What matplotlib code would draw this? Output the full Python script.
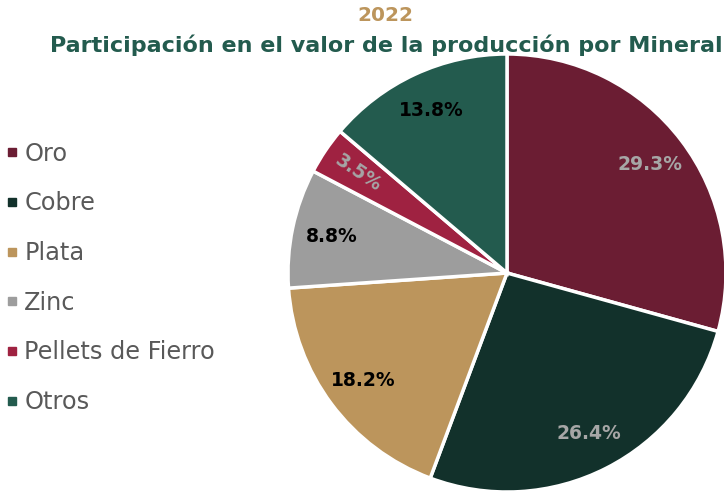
import matplotlib
matplotlib.use('Agg')
import matplotlib.pyplot as plt
from matplotlib.lines import Line2D

minerales = ['Oro', 'Cobre', 'Plata', 'Zinc', 'Pellets de Fierro', 'Otros']
participacion = [29.3, 26.4, 18.2, 8.8, 3.5, 13.8]
colores = ['#6B1D33', '#12312B', '#BC955C', '#9D9D9D', '#9F2241', '#235B4E']
color_etiqueta = ['#A6A6A6', '#A6A6A6', 'black', 'black', '#A6A6A6', 'black']

plt.rcParams['font.family'] = ['DejaVu Sans']

fig = plt.figure(figsize=(7.24, 4.91), dpi=100)
ax = fig.add_axes([288/724, -1/491, 438/724, 438/491])

wedges, texts, autotexts = ax.pie(
    participacion, colors=colores, startangle=90, counterclock=False,
    autopct='%.1f%%', pctdistance=0.82, radius=1,
    wedgeprops=dict(edgecolor='white', linewidth=2.5))
ax.set_xlim(-1.0, 1.0)
ax.set_ylim(-1.0, 1.0)
ax.set_aspect('equal')

for t, c in zip(autotexts, color_etiqueta):
    t.set_color(c)
    t.set_fontsize(13.5)
    t.set_fontweight('bold')
# etiqueta de Pellets rotada
autotexts[4].set_rotation(-34)

fig.text(0.532, 0.968, '2022', ha='center', va='center', color='#BC955C',
         fontsize=14.5, fontweight='bold')
fig.text(0.533, 0.908, 'Participación en el valor de la producción por Mineral',
         ha='center', va='center', color='#235B4E', fontsize=16, fontweight='bold')

handles = [Line2D([], [], marker='s', linestyle='', markersize=6,
                  markerfacecolor=c, markeredgecolor=c) for c in colores]
fig.legend(handles, minerales, loc='center left', bbox_to_anchor=(-0.003, 0.434),
           frameon=False, fontsize=17.3, labelcolor='#595959', labelspacing=1.07,
           handlelength=0.4, handletextpad=0.3, borderaxespad=0.2, borderpad=0.2)

fig.savefig('out.png', dpi=100)
